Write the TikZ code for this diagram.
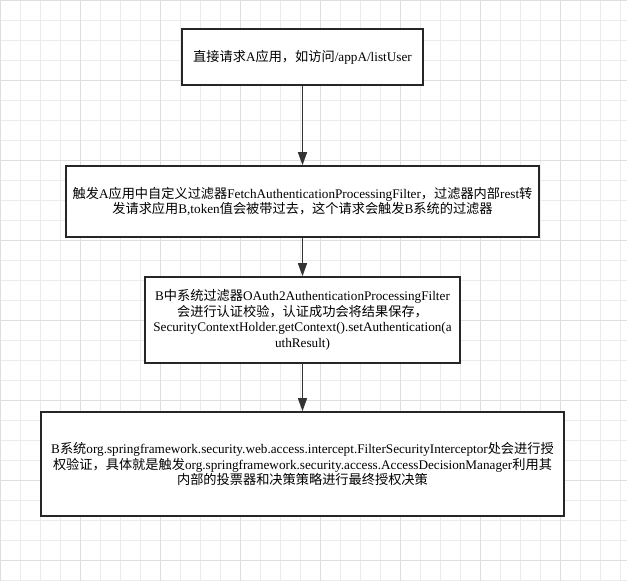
\documentclass[tikz,border=0pt]{standalone}
\usepackage{fontspec}
\setmainfont{Liberation Serif}
\newfontfamily\cjk{Noto Sans CJK SC}
\newcommand{\zh}[1]{{\cjk #1}}
\usetikzlibrary{arrows.meta}
\begin{document}
\begin{tikzpicture}[x=1pt,y=-1pt,
  box/.style={draw=black!85,line width=1.6pt,fill=white,align=center,font=\fontsize{13.2}{15.5}\selectfont,inner sep=2pt},
  arr/.style={draw=black!80,line width=1.3pt,-{Triangle[length=13pt,width=9pt]}}]
\useasboundingbox (0,0) rectangle (627,581);
\fill[white] (0,0) rectangle (627,581);
\foreach \i in {0,20,...,620} \draw[black!8,line width=0.6pt] (\i,0) -- (\i,581);
\foreach \i in {0,20,...,580} \draw[black!8,line width=0.6pt] (0,\i) -- (627,\i);
\foreach \i in {0,80,...,620} \draw[black!13,line width=0.7pt] (\i,0) -- (\i,581);
\foreach \i in {0,80,...,580} \draw[black!13,line width=0.7pt] (0,\i) -- (627,\i);
\node[box,minimum width=241pt,minimum height=56pt] (a) at (302.5,57) {\zh{直接请求}A\zh{应用，如访问}/appA/listUser};
\node[box,minimum width=473pt,minimum height=71pt] (b) at (302.5,201.5) {\zh{触发}A\zh{应用中自定义过滤器}FetchAuthenticationProcessingFilter\zh{，过滤器内部}rest\zh{转}\\\zh{发请求应用}B,token\zh{值会被带过去，这个请求会触发}B\zh{系统的过滤器}};
\node[box,minimum width=315pt,minimum height=86pt] (c) at (302.5,320) {B\zh{中系统过滤器}OAuth2AuthenticationProcessingFilter\\\zh{会进行认证校验，认证成功会将结果保存，}\\SecurityContextHolder.getContext().setAuthentication(a\\uthResult)};
\node[box,minimum width=523pt,minimum height=104pt] (d) at (302.5,464) {B\zh{系统}org.springframework.security.web.access.intercept.FilterSecurityInterceptor\zh{处会进行授}\\\zh{权验证，具体就是触发}org.springframework.security.access.AccessDecisionManager\zh{利用其}\\\zh{内部的投票器和决策策略进行最终授权决策}};
\draw[arr] (a) -- (b);
\draw[arr] (b) -- (c);
\draw[arr] (c) -- (d);
\end{tikzpicture}
\end{document}
